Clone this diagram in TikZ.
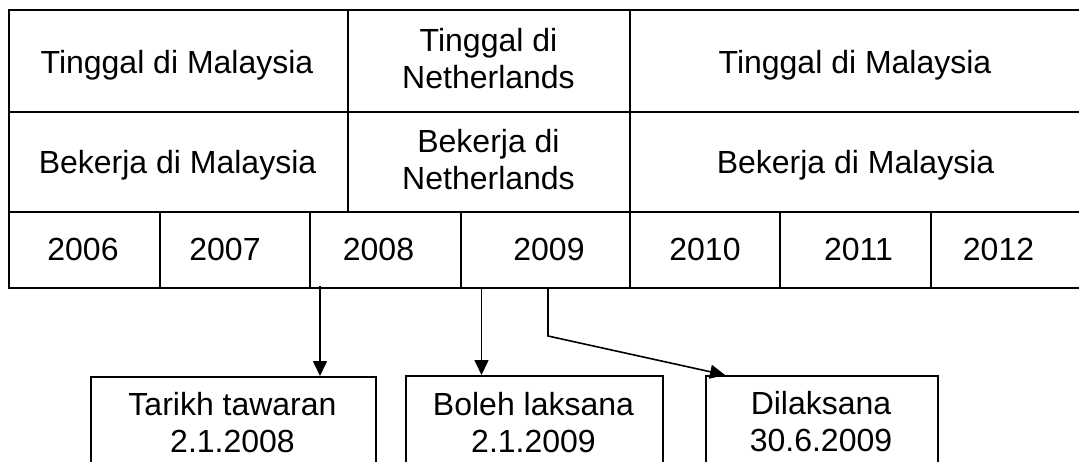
\documentclass[tikz,border=0pt]{standalone}
\usepackage{fontspec}
\setmainfont{Liberation Sans}
\usetikzlibrary{arrows.meta}
\begin{document}
\begin{tikzpicture}[x=1pt,y=-1pt,
  rule/.style={line width=1.6pt},
  cell/.style={font=\fontsize{32}{37}\selectfont, align=center, inner sep=0pt},
  box/.style={draw, line width=1.5pt, anchor=north west, minimum height=150pt, inner sep=0pt},
  arr/.style={line width=1.6pt, -{Triangle[length=15pt,width=14pt]}}]
\useasboundingbox (0,0) rectangle (1079,461);
% table rules
\draw[rule] (1079,10) -- (9,10) -- (9,288) -- (1079,288);
\draw[rule] (9,112) -- (1079,112);
\draw[rule] (9,212) -- (1079,212);
\draw[rule] (348,10) -- (348,212);
\draw[rule] (630,10) -- (630,288);
\foreach \xx in {160,310,461,780,931} \draw[rule] (\xx,212) -- (\xx,288);
% row 1
\node[cell, anchor=base] (r1a) at (177,73) {Tinggal di Malaysia};
\node[cell] (r1b) at (488.5,58.5) {Tinggal di\\Netherlands};
\node[cell, anchor=base] (r1c) at (855,73) {Tinggal di Malaysia};
% row 2
\node[cell, anchor=base] (r2a) at (177.5,173.3) {Bekerja di Malaysia};
\node[cell] (r2b) at (488.5,159.6) {Bekerja di\\Netherlands};
\node[cell, anchor=base] (r2c) at (855.5,173.3) {Bekerja di Malaysia};
% row 3
\node[cell, anchor=base] (y06) at (83,260) {2006};
\node[cell, anchor=base] (y07) at (225,260) {2007};
\node[cell, anchor=base] (y08) at (378.5,260) {2008};
\node[cell, anchor=base] (y09) at (549,260) {2009};
\node[cell, anchor=base] (y10) at (705,260) {2010};
\node[cell, anchor=base] (y11) at (858.5,260) {2011};
\node[cell, anchor=base] (y12) at (998.5,260) {2012};
% boxes
\node[box, minimum width=285pt] (boxA) at (90,376) {};
\node[box, minimum width=257pt] (boxB) at (405,375) {};
\node[box, minimum width=232pt] (boxC) at (705,375) {};
\node[cell] (tA) at (232.5,423) {Tarikh tawaran\\2.1.2008};
\node[cell] (tB) at (533.5,423) {Boleh laksana\\2.1.2009};
\node[cell] (tC) at (821,422) {Dilaksana\\30.6.2009};
% arrows
\coordinate (s1) at (320,286);
\coordinate (s2) at (481.5,288);
\coordinate (s3) at (548,288);
\coordinate (k3) at (548,336);
\draw[arr] (s1) -- (s1 |- boxA.north);
\draw[arr] (s2) -- (s2 |- boxB.north);
\draw[arr] (s3) -- (k3) -- ([xshift=20pt]boxC.north west);
\end{tikzpicture}
\end{document}
